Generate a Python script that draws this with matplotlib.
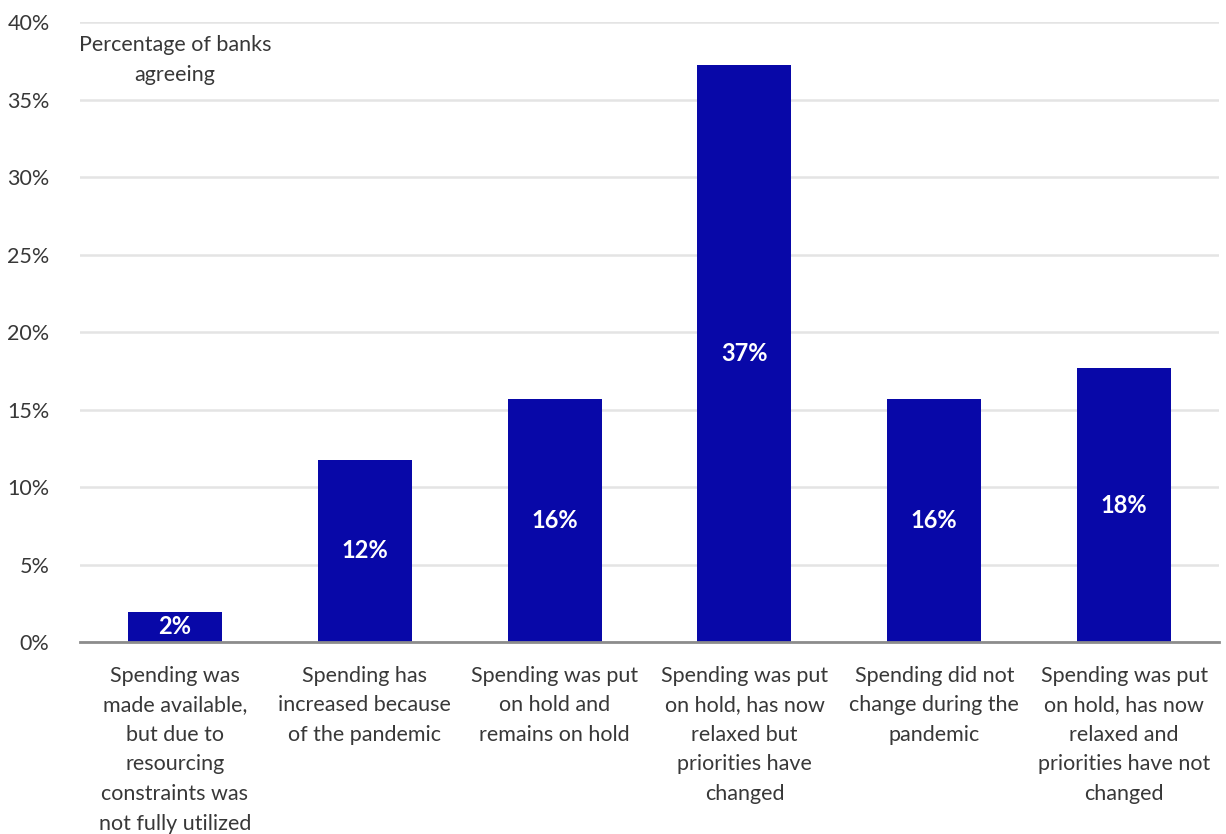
import matplotlib
matplotlib.use("Agg")
import matplotlib.pyplot as plt
from matplotlib.ticker import PercentFormatter

plt.rcParams['font.family'] = ['Lato', 'DejaVu Sans']

categories = [
    "Spending was\nmade available,\nbut due to\nresourcing\nconstraints was\nnot fully utilized",
    "Spending has\nincreased because\nof the pandemic",
    "Spending was put\non hold and\nremains on hold",
    "Spending was put\non hold, has now\nrelaxed but\npriorities have\nchanged",
    "Spending did not\nchange during the\npandemic",
    "Spending was put\non hold, has now\nrelaxed and\npriorities have not\nchanged",
]
# share of responding banks (n = 51)
bank_counts = [1, 6, 8, 19, 8, 9]
total_banks = 51
values = [100 * c / total_banks for c in bank_counts]
yticks = [0, 5, 10, 15, 20, 25, 30, 35, 40]

bar_color = "#0808A8"
text_color = "#383838"

fig = plt.figure(figsize=(12.26, 8.34), dpi=100)
ax = fig.add_axes([0.0653, 0.2302, 0.929, 0.7434])

x = list(range(len(categories)))
bars = ax.bar(x, values, width=0.495, color=bar_color, zorder=3)

for b, v in zip(bars, values):
    ax.text(b.get_x() + b.get_width() / 2, v / 2, f"{v:.0f}%",
            ha="center", va="center", color="white", fontsize=17,
            fontweight="bold", zorder=4)

ax.set_xlim(-0.5, len(categories) - 0.5)
ax.set_ylim(0, 40)
ax.set_yticks(yticks)
ax.yaxis.set_major_formatter(PercentFormatter(decimals=0))
ax.grid(axis="y", color="#e4e4e4", linewidth=1.8, zorder=0)
ax.set_axisbelow(True)

for s in ["top", "right", "left"]:
    ax.spines[s].set_visible(False)
ax.spines["bottom"].set_color("#8c8c8c")
ax.spines["bottom"].set_linewidth(2)
ax.spines["bottom"].set_zorder(5)

ax.set_xticks(x)
ax.set_xticklabels(categories, fontsize=15.5, color=text_color,
                   linespacing=1.6, va="top")
ax.tick_params(axis="x", length=0, pad=17)
ax.tick_params(axis="y", length=0, pad=22, labelsize=15.5, labelcolor=text_color)

ax.text(0.0, 37.55, "Percentage of banks\nagreeing", ha="center", va="center",
        fontsize=15.5, color=text_color, linespacing=1.6)

fig.savefig("out.png", dpi=100)
